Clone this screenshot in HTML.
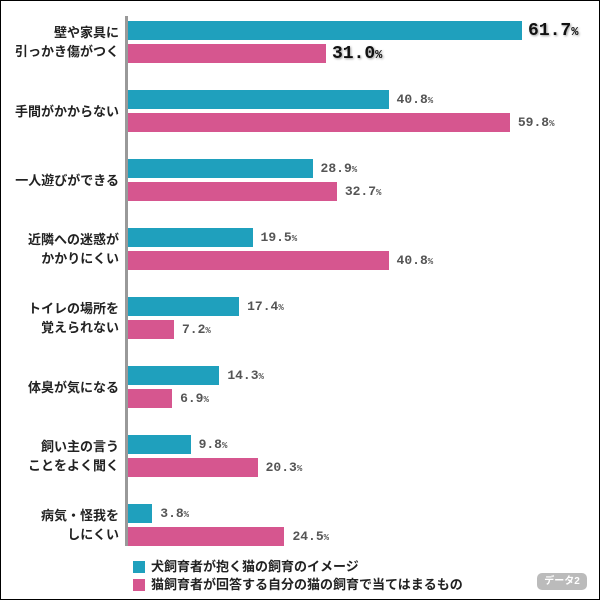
<!DOCTYPE html>
<html><head><meta charset="utf-8">
<style>
body{margin:0;background:#fff;}
#wrap{position:relative;width:598px;height:598px;border:1px solid #000;overflow:hidden;font-family:"Liberation Sans","Noto Sans CJK JP",sans-serif;}
.lbl{position:absolute;right:480px;text-align:right;font-size:13px;font-weight:bold;color:#222;line-height:19px;white-space:nowrap;}
.val{position:absolute;font-family:"Liberation Mono","DejaVu Sans Mono",monospace;font-weight:bold;color:#555;font-size:13px;line-height:19px;}
.val small{font-size:9px;}
.big{font-size:18px;color:#111;text-shadow:1px 1px 2px #999;}
.big small{font-size:12px;}
.bar{position:absolute;height:19px;}
.leg{position:absolute;left:150px;font-size:13px;font-weight:bold;color:#222;line-height:16px;}
.sw{position:absolute;left:132px;width:12px;height:12px;}
</style></head><body>
<div id="wrap">
<div style="position:absolute;left:124px;top:15px;width:3px;height:530px;background:#999"></div>
<div class="sw" style="top:560px;background:#1fa0bd"></div>
<div class="leg" style="top:558px">犬飼育者が抱く猫の飼育のイメージ</div>
<div class="sw" style="top:578px;background:#d6568f"></div>
<div class="leg" style="top:576px">猫飼育者が回答する自分の猫の飼育で当てはまるもの</div>
<div style="position:absolute;left:536px;top:572px;width:50px;height:17px;border-radius:5px;background:#bbb;color:#fff;font-size:10px;font-weight:bold;text-align:center;line-height:17px">データ2</div>
</div>
<script>
const categories=[["壁や家具に","引っかき傷がつく"],["手間がかからない"],["一人遊びができる"],["近隣への迷惑が","かかりにくい"],["トイレの場所を","覚えられない"],["体臭が気になる"],["飼い主の言う","ことをよく聞く"],["病気・怪我を","しにくい"]];
const dogValues=[61.7,40.8,28.9,19.5,17.4,14.3,9.8,3.8];
const catValues=[31.0,59.8,32.7,40.8,7.2,6.9,20.3,24.5];
const wrap=document.getElementById('wrap');
const x=v=>v*6.386;
const gy=i=>20+i*69;
categories.forEach((c,i)=>{
  const l=document.createElement('div');l.className='lbl';
  
  
  l.innerHTML=c.join('<br>');
  l.style.top=(gy(i)+21-c.length*19/2)+'px';
  wrap.appendChild(l);
  [[dogValues[i],'#1fa0bd',0,'bar-dog'],[catValues[i],'#d6568f',23,'bar-cat']].forEach(([v,col,off,nm])=>{
    const b=document.createElement('div');b.className='bar';
    
    
    b.style.left='127px';b.style.top=(gy(i)+off)+'px';b.style.width=x(v)+'px';b.style.background=col;
    wrap.appendChild(b);
    const t=document.createElement('div');t.className='val'+(i===0?' big':'');
    
    
    t.innerHTML=v.toFixed(1)+'<small>%</small>';
    t.style.left=(127+x(v)+(i===0?6:8))+'px';t.style.top=(gy(i)+off+(i===0?1:0))+'px';
    wrap.appendChild(t);
  });
});
</script>
</body></html>
